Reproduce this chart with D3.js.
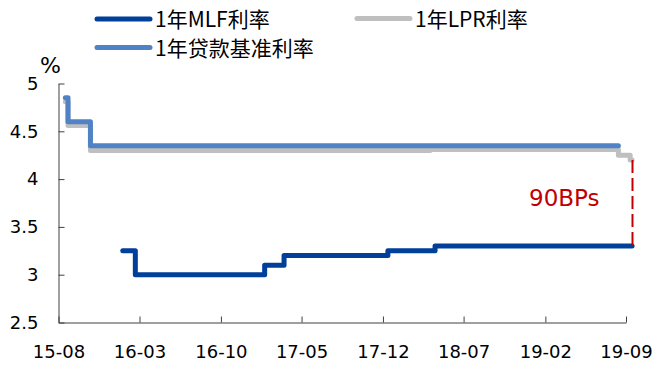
<!DOCTYPE html>
<html><head><meta charset="utf-8">
<script src="https://cdn.jsdelivr.net/npm/d3@7"></script>
<style>body{margin:0;background:#fff}svg{display:block}</style>
</head><body><svg id="c" width="653" height="369"></svg>
<script>
// ---- data ----
const xTickLabels = ["15-08","16-03","16-10","17-05","17-12","18-07","19-02","19-09"];
const yTicks = [2.5, 3, 3.5, 4, 4.5, 5];
const seriesNames = ["1年MLF利率", "1年LPR利率", "1年贷款基准利率"];

const mlfDates  = ["2016-01-17","2016-02-19","2017-01-24","2017-03-16","2017-12-14","2018-04-17","2019-09-17"];
const mlfValues = [3.25, 3.00, 3.10, 3.20, 3.25, 3.30, 3.30];

const lprDates  = ["2015-08-19","2015-08-26","2015-10-24","2018-04-04","2019-08-12","2019-09-12","2019-09-17"];
const lprValues = [4.81, 4.56, 4.30, 4.31, 4.25, 4.20, 4.20];

const loanDates  = ["2015-08-19","2015-08-26","2015-10-24","2019-08-12"];
const loanValues = [4.85, 4.60, 4.35, 4.35];

const spreadLabel = "90BPs";
const spreadDate = "2019-09-17";
const spreadValues = [4.20, 3.30];

// ---- setup ----
const colors = ["#00409A", "#BFBFBF", "#4F83C6"];
const svg = d3.select("#c");
const parse = d3.timeParse("%Y-%m-%d");
const tickDates = xTickLabels.map(s => new Date(2000 + +s.slice(0,2), +s.slice(3) - 1, 1));

const x = d3.scaleTime().domain([tickDates[0], tickDates[tickDates.length-1]]).range([58.5, 626]);
const y = d3.scaleLinear().domain([2.5, 5]).range([322.5, 83.5]);

const font = "'DejaVu Sans', 'Noto Sans CJK SC', sans-serif";
const axisColor = "#404040";

// axes
const gy = svg.append("g").attr("transform", "translate(58.5,0)")
  .call(d3.axisLeft(y).tickValues(yTicks).tickSize(-6).tickSizeOuter(0).tickPadding(20)
        .tickFormat(d => d3.format("")(d)));
const gx = svg.append("g").attr("transform", "translate(0,322.5)")
  .call(d3.axisBottom(x).tickValues(tickDates).tickSize(-6).tickSizeOuter(0).tickPadding(23)
        .tickFormat((d, i) => xTickLabels[i]));
[gx, gy].forEach(g => {
  g.selectAll("path.domain").attr("stroke", axisColor).attr("stroke-width", 1);
  g.selectAll(".tick line").attr("stroke", axisColor).attr("stroke-width", 1);
  g.selectAll("text").attr("fill", "#000").style("font-family", font).style("font-size", "18px");
});
gx.selectAll(".tick:first-child line").remove();

svg.append("text").attr("x", 50.5).attr("y", 73).attr("text-anchor", "middle")
  .style("font-family", font).style("font-size", "22px").text("%");

// series
const series = [
  {dates: mlfDates, values: mlfValues},
  {dates: lprDates, values: lprValues},
  {dates: loanDates, values: loanValues}
];
const line = d3.line().x(d => x(d.date)).y(d => y(d.value)).curve(d3.curveStepAfter);
series.forEach((s, i) => {
  const pts = s.dates.map((d, j) => ({date: parse(d), value: s.values[j]}));
  svg.append("path").datum(pts).attr("d", line)
    .attr("fill", "none").attr("stroke", colors[i]).attr("stroke-width", 5)
    .attr("stroke-linejoin", "round").attr("stroke-linecap", "round");
});

// spread annotation
const sx = Math.round(x(parse(spreadDate))) + 0.5;
svg.append("line").attr("x1", sx).attr("x2", sx)
  .attr("y1", y(spreadValues[0])).attr("y2", y(spreadValues[1]))
  .attr("stroke", "#C00000").attr("stroke-width", 2).attr("stroke-dasharray", "13,5");
svg.append("text").attr("x", 529).attr("y", 206)
  .style("font-family", font).style("font-size", "23px").attr("fill", "#C00000").text(spreadLabel);

// legend
const legendPos = [[97, 19], [357, 18.5], [97, 47.5]];
seriesNames.forEach((name, i) => {
  const [lx, ly] = legendPos[i];
  svg.append("line").attr("x1", lx).attr("x2", lx + 53).attr("y1", ly).attr("y2", ly)
    .attr("stroke", colors[i]).attr("stroke-width", 5).attr("stroke-linecap", "round");
  svg.append("text").attr("x", lx + 58).attr("y", ly + 8)
    .style("font-family", "'Noto Sans CJK SC', sans-serif").style("font-size", "21px")
    .attr("fill", "#000").text(name);
});
</script>
</body></html>
